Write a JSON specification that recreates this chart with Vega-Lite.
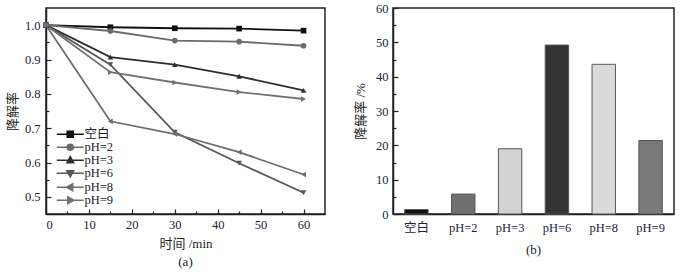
{
  "$schema": "https://vega.github.io/schema/vega-lite/v6.json",
  "padding": {"left": 5, "top": 1, "right": 5, "bottom": 0},
  "spacing": 27,
  "config": {
    "font": "Liberation Serif, Noto Sans CJK SC",
    "view": {"stroke": "#222", "strokeWidth": 1.5},
    "axis": {
      "grid": false,
      "domainColor": "#222",
      "domainWidth": 1.5,
      "tickColor": "#222",
      "tickWidth": 1.2,
      "labelFont": "Liberation Serif, Noto Sans CJK SC",
      "labelFontSize": 12.5,
      "labelColor": "#22223a",
      "titleFont": "Liberation Serif, Noto Sans CJK SC",
      "titleFontSize": 13,
      "titleFontWeight": "normal",
      "titleColor": "#222"
    },
    "title": {"font": "Liberation Serif, Noto Sans CJK SC", "fontSize": 13, "fontWeight": "normal", "color": "#222"},
    "legend": {"labelFont": "Liberation Serif, Noto Sans CJK SC", "labelFontSize": 13, "labelColor": "#222"}
  },
  "hconcat": [
    {
      "width": 279,
      "height": 206,
      "title": {"text": "(a)", "orient": "bottom", "offset": 5},
      "data": {"values": [
        {"t": 0, "s": "空白", "v": 1.0}, {"t": 15, "s": "空白", "v": 0.994}, {"t": 30, "s": "空白", "v": 0.991}, {"t": 45, "s": "空白", "v": 0.990}, {"t": 60, "s": "空白", "v": 0.984},
        {"t": 0, "s": "pH=2", "v": 1.0}, {"t": 15, "s": "pH=2", "v": 0.983}, {"t": 30, "s": "pH=2", "v": 0.955}, {"t": 45, "s": "pH=2", "v": 0.952}, {"t": 60, "s": "pH=2", "v": 0.940},
        {"t": 0, "s": "pH=3", "v": 1.0}, {"t": 15, "s": "pH=3", "v": 0.907}, {"t": 30, "s": "pH=3", "v": 0.885}, {"t": 45, "s": "pH=3", "v": 0.851}, {"t": 60, "s": "pH=3", "v": 0.810},
        {"t": 0, "s": "pH=6", "v": 1.0}, {"t": 15, "s": "pH=6", "v": 0.885}, {"t": 30, "s": "pH=6", "v": 0.688}, {"t": 45, "s": "pH=6", "v": 0.598}, {"t": 60, "s": "pH=6", "v": 0.512},
        {"t": 0, "s": "pH=8", "v": 1.0}, {"t": 15, "s": "pH=8", "v": 0.720}, {"t": 30, "s": "pH=8", "v": 0.683}, {"t": 45, "s": "pH=8", "v": 0.630}, {"t": 60, "s": "pH=8", "v": 0.565},
        {"t": 0, "s": "pH=9", "v": 1.0}, {"t": 15, "s": "pH=9", "v": 0.863}, {"t": 30, "s": "pH=9", "v": 0.833}, {"t": 45, "s": "pH=9", "v": 0.805}, {"t": 60, "s": "pH=9", "v": 0.785}
      ]},
      "encoding": {
        "x": {
          "field": "t", "type": "quantitative",
          "scale": {"domain": [0, 65], "nice": false},
          "axis": {
            "title": "时间 /min",
            "values": [0, 5, 10, 15, 20, 25, 30, 35, 40, 45, 50, 55, 60],
            "labelExpr": "datum.value % 10 === 0 ? datum.label : ''",
            "tickSize": {"condition": {"test": "datum.value % 10 === 0", "value": -5}, "value": -3},
            "labelPadding": 9,
            "titlePadding": 7
          }
        },
        "y": {
          "field": "v", "type": "quantitative",
          "scale": {"domain": [0.45, 1.05], "nice": false, "zero": false},
          "axis": {
            "title": "降解率",
            "values": [0.5, 0.55, 0.6, 0.65, 0.7, 0.75, 0.8, 0.85, 0.9, 0.95, 1.0],
            "labelExpr": "round(datum.value * 100) % 10 === 0 ? format(datum.value, '.1f') : ''",
            "tickSize": {"condition": {"test": "round(datum.value * 100) % 10 === 0", "value": -5}, "value": -3},
            "labelPadding": 11,
            "titlePadding": 5
          }
        },
        "color": {
          "field": "s", "type": "nominal",
          "scale": {
            "domain": ["空白", "pH=2", "pH=3", "pH=6", "pH=8", "pH=9"],
            "range": ["#111111", "#6b6b6b", "#2e2e2e", "#575757", "#6e6e6e", "#727272"]
          },
          "legend": {
            "title": null,
            "orient": "bottom-left",
            "offset": 7,
            "padding": 0,
            "rowPadding": -6,
            "symbolSize": 36,
            "symbolStrokeWidth": 1.6,
            "labelOffset": 8,
            "symbolOffset": 11,
            "labelFontSize": 12.5,
            "encode": {
              "symbols": {
                "update": {
                  "shape": {"signal": "datum.value === '空白' ? 'M-4.5,0H4.5M-1,-1H1V1H-1Z' : datum.value === 'pH=2' ? 'M-4.5,0H4.5M-1,0A1,1 0 1,0 1,0A1,1 0 1,0 -1,0Z' : datum.value === 'pH=3' ? 'M-4.5,0H4.5M0,-1.2L1.1,0.8H-1.1Z' : datum.value === 'pH=6' ? 'M-4.5,0H4.5M0,1.2L1.1,-0.8H-1.1Z' : datum.value === 'pH=8' ? 'M-4.5,0H4.5M-1.2,0L0.8,-1.1V1.1Z' : 'M-4.5,0H4.5M1.2,0L-0.8,-1.1V1.1Z'"},
                  "stroke": {"signal": "datum.value === '空白' ? '#111111' : datum.value === 'pH=2' ? '#6b6b6b' : datum.value === 'pH=3' ? '#2e2e2e' : datum.value === 'pH=6' ? '#575757' : datum.value === 'pH=8' ? '#6e6e6e' : '#727272'"},
                  "fill": {"signal": "datum.value === '空白' ? '#111111' : datum.value === 'pH=2' ? '#6b6b6b' : datum.value === 'pH=3' ? '#2e2e2e' : datum.value === 'pH=6' ? '#575757' : datum.value === 'pH=8' ? '#6e6e6e' : '#727272'"},
                  "opacity": {"value": 1},
                  "strokeDash": {"value": []}
                }
              }
            }
          }
        }
      },
      "layer": [
        {"mark": {"type": "line", "strokeWidth": 1.8}},
        {
          "mark": {"type": "point", "filled": true, "size": 32, "opacity": 1},
          "encoding": {
            "shape": {
              "field": "s", "type": "nominal",
              "scale": {
                "domain": ["空白", "pH=2", "pH=3", "pH=6", "pH=8", "pH=9"],
                "range": ["square", "circle", "triangle-up", "triangle-down", "triangle-left", "triangle-right"]
              },
              "legend": null
            }
          }
        }
      ]
    },
    {
      "width": 281,
      "height": 206,
      "title": {"text": "(b)", "orient": "bottom", "offset": 10},
      "data": {"values": [
        {"c": "空白", "r": 1.3},
        {"c": "pH=2", "r": 5.8},
        {"c": "pH=3", "r": 19.0},
        {"c": "pH=6", "r": 49.2},
        {"c": "pH=8", "r": 43.6},
        {"c": "pH=9", "r": 21.4}
      ]},
      "mark": {"type": "bar", "stroke": "#555", "strokeWidth": 1},
      "encoding": {
        "x": {
          "field": "c", "type": "nominal", "sort": null,
          "scale": {"paddingInner": 0.5, "paddingOuter": 0.25},
          "axis": {"title": null, "labelAngle": 0, "tickSize": -4, "labelPadding": 11}
        },
        "y": {
          "field": "r", "type": "quantitative",
          "scale": {"domain": [0, 60], "nice": false},
          "axis": {
            "title": "降解率 /%",
            "values": [0, 5, 10, 15, 20, 25, 30, 35, 40, 45, 50, 55, 60],
            "labelExpr": "datum.value % 10 === 0 ? datum.label : ''",
            "tickSize": {"condition": {"test": "datum.value % 10 === 0", "value": -5}, "value": -3},
            "labelPadding": 10,
            "titlePadding": 8
          }
        },
        "color": {
          "field": "c", "type": "nominal",
          "scale": {
            "domain": ["空白", "pH=2", "pH=3", "pH=6", "pH=8", "pH=9"],
            "range": ["#111111", "#707070", "#d3d3d3", "#333333", "#dadada", "#7a7a7a"]
          },
          "legend": null
        }
      }
    }
  ],
  "resolve": {"scale": {"color": "independent"}}
}
